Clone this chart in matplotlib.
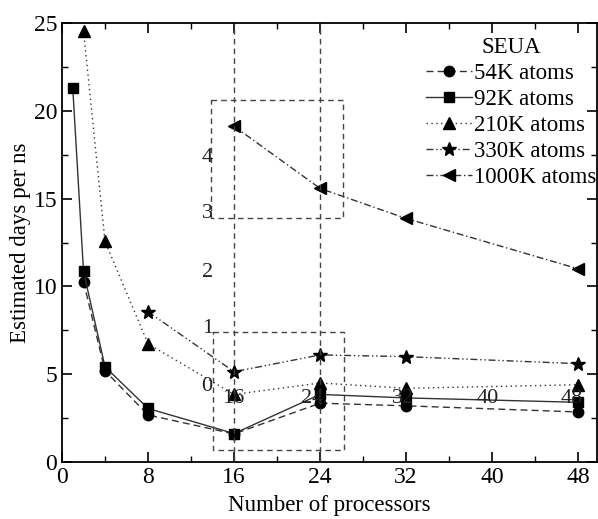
import matplotlib.pyplot as plt
from matplotlib.ticker import MultipleLocator

plt.rcParams['font.family'] = ['Liberation Serif', 'DejaVu Serif']

# data
x54 = [2, 4, 8, 16, 24, 32, 48]
y54 = [10.27, 5.19, 2.68, 1.6, 3.35, 3.2, 2.85]
x92 = [1, 2, 4, 8, 16, 24, 32, 48]
y92 = [21.3, 10.85, 5.42, 3.05, 1.62, 3.85, 3.65, 3.4]
x210 = [2, 4, 8, 16, 24, 32, 48]
y210 = [24.55, 12.56, 6.73, 3.85, 4.5, 4.2, 4.4]
x330 = [8, 16, 24, 32, 48]
y330 = [8.56, 5.14, 6.1, 6.0, 5.6]
x1000 = [16, 24, 32, 48]
y1000 = [19.12, 15.58, 13.87, 11.0]
labels = ["54K atoms", "92K atoms", "210K atoms", "330K atoms", "1000K atoms"]

# stray inset labels left over in the figure
inset_y_txt = ["4", "3", "2", "1", "0"]
inset_y_pos = [17.35, 14.15, 10.8, 7.6, 4.3]
inset_x_txt = ["16", "24", "32", "40", "48"]
inset_x_pos = [15.9, 23.3, 31.7, 39.6, 47.4]

fig = plt.figure(figsize=(5.98, 5.19), dpi=100)
ax = fig.add_axes([0.1037, 0.1098, 0.8946, 0.8459])

lc = '#333333'
ax.plot(x54, y54, color=lc, ls=(0, (5, 3)), lw=1.0, marker='o', ms=7.5, mfc='k', mec='k', label=labels[0])
ax.plot(x92, y92, color=lc, ls='-', lw=1.0, marker='s', ms=7, mfc='k', mec='k', label=labels[1])
ax.plot(x210, y210, color=lc, ls=(0, (1, 2.5)), lw=1.0, marker='^', ms=8.5, mfc='k', mec='k', label=labels[2])
ax.plot(x330, y330, color=lc, ls=(0, (5, 2, 1, 2, 1, 2)), lw=1.0, marker='*', ms=10, mfc='k', mec='k', label=labels[3])
ax.plot(x1000, y1000, color=lc, ls=(0, (5, 2, 1, 2)), lw=1.0, marker='<', ms=8.5, mfc='k', mec='k', label=labels[4])

# dashed overlay boxes and guide lines
dk = dict(color='#444444', ls=(0, (4, 3)), lw=1.0)
ax.axvline(16, **dk)
ax.axvline(24, **dk)
ax.plot([13.85, 26.1, 26.1, 13.85, 13.85], [20.6, 20.6, 13.87, 13.87, 20.6], **dk)
ax.plot([14.0, 26.2, 26.2, 14.0, 14.0], [7.42, 7.42, 0.68, 0.68, 7.42], **dk)
for t, yy in zip(inset_y_txt, inset_y_pos):
    ax.text(13.5, yy, t, fontsize=16, ha='center', va='center', color='#222222')
for t, xx in zip(inset_x_txt, inset_x_pos):
    ax.text(xx, 3.6, t, fontsize=16, ha='center', va='center', color='#222222')

ax.set_xlim(0, 49.75)
ax.set_ylim(0, 25)
ax.set_xticks([0, 8, 16, 24, 32, 40, 48])
ax.xaxis.set_minor_locator(MultipleLocator(4))
ax.yaxis.set_major_locator(MultipleLocator(5))
ax.yaxis.set_minor_locator(MultipleLocator(2.5))
ax.tick_params(which='both', direction='in', top=True, right=True, labelsize=17)
ax.tick_params(which='major', length=7, width=1.2)
ax.tick_params(which='minor', length=4, width=1.0)
for s in ax.spines.values():
    s.set_linewidth(1.3)
ax.set_xlabel("Number of processors", fontsize=16.5, labelpad=5)
ax.set_ylabel("Estimated days per ns", fontsize=16.5, labelpad=2)

leg = ax.legend(title="SEUA", loc='upper left', bbox_to_anchor=(0.68, 0.968),
                frameon=False, fontsize=16.5, title_fontsize=16.5, handlelength=2.0,
                handletextpad=0.1, labelspacing=0.22, borderpad=0, borderaxespad=0)

fig.savefig("out.png", dpi=100)
